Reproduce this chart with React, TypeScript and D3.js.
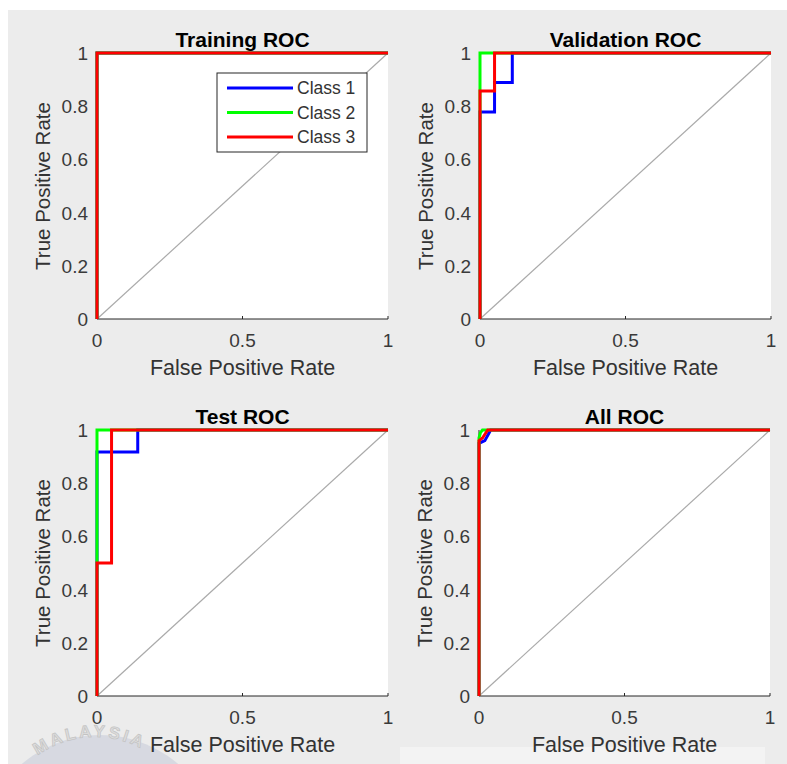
import React from 'react';
import * as d3 from 'd3';

const classes = ['Class 1', 'Class 2', 'Class 3'];
const classColors = ['#0000ff', '#00ff00', '#ff0000'];
const panelTitles = ['Training ROC', 'Validation ROC', 'Test ROC', 'All ROC'];
const xTicks = [0, 0.5, 1];
const yTicks = [0, 0.2, 0.4, 0.6, 0.8, 1];

// [fpr, tpr] points, one list per class
const trainingRoc = [
  [[0, 0], [0, 1], [1, 1]],
  [[0, 0], [0, 1], [1, 1]],
  [[0, 0], [0, 1], [1, 1]],
];
const validationRoc = [
  [[0, 0], [0, 0.778], [0.05, 0.778], [0.05, 0.889], [0.111, 0.889], [0.111, 1], [1, 1]],
  [[0, 0], [0, 1], [1, 1]],
  [[0, 0], [0, 0.857], [0.05, 0.857], [0.05, 1], [1, 1]],
];
const testRoc = [
  [[0, 0], [0, 0.917], [0.14, 0.917], [0.14, 1], [1, 1]],
  [[0, 0], [0, 1], [1, 1]],
  [[0, 0], [0, 0.5], [0.05, 0.5], [0.05, 1], [1, 1]],
];
const allRoc = [
  [[0, 0], [0, 0.95], [0.02, 0.96], [0.035, 0.99], [0.04, 1], [1, 1]],
  [[0, 0], [0, 0.97], [0.005, 0.99], [0.012, 1], [1, 1]],
  [[0, 0], [0, 0.96], [0.012, 0.97], [0.03, 1], [1, 1]],
];
const panelCurves = [trainingRoc, validationRoc, testRoc, allRoc];

// left/top corner of each axes box
const panelBoxes = [
  { x: 97, y: 53 },
  { x: 480, y: 53 },
  { x: 97, y: 430 },
  { x: 479, y: 430 },
];
const plotW = 291;
const plotH = 266;
const font = '"Liberation Sans", Arial, Helvetica, sans-serif';
const textColor = '#262626';

function RocPanel({ idx }: { idx: number }) {
  const { x: left, y: top } = panelBoxes[idx];
  const x = d3.scaleLinear().domain([0, 1]).range([left, left + plotW]);
  const y = d3.scaleLinear().domain([0, 1]).range([top + plotH, top]);
  const line = d3.line<number[]>().x(d => x(d[0])).y(d => y(d[1]));
  const cx = left + plotW / 2;
  const cy = top + plotH / 2;
  return (
    <g>
      <rect x={left} y={top} width={plotW} height={plotH} fill="#ffffff" />
      <line x1={x(0)} y1={y(0)} x2={x(1)} y2={y(1)} stroke="#aaaaaa" strokeWidth={1.2} />
      <line x1={x(0)} y1={y(0)} x2={x(1)} y2={y(0)} stroke={textColor} strokeWidth={1} />
      <line x1={x(0)} y1={y(0)} x2={x(0)} y2={y(1)} stroke={textColor} strokeWidth={1} />
      {xTicks.map(t => (
        <g key={t}>
          <line x1={x(t)} x2={x(t)} y1={y(0)} y2={y(0) - 3} stroke={textColor} />
          <text x={x(t)} y={y(0) + 28} textAnchor="middle" fontSize={19} fill="#3a3a3a" fontFamily={font}>
            {t}
          </text>
        </g>
      ))}
      {yTicks.map(t => (
        <text key={t} x={left - 9} y={y(t) + 2} textAnchor="end" dominantBaseline="middle" fontSize={19} fill="#3a3a3a" fontFamily={font}>
          {t}
        </text>
      ))}
      {panelCurves[idx].map((pts, i) => (
        <path key={i} d={line(pts) || ''} fill="none" stroke={classColors[i]} strokeWidth={3} strokeLinejoin="miter" />
      ))}
      <text x={cx} y={top - 6} textAnchor="middle" fontSize={21} fontWeight="bold" fill="#000" fontFamily={font}>
        {panelTitles[idx]}
      </text>
      <text x={cx} y={y(0) + 56} textAnchor="middle" fontSize={21.5} fill="#333" fontFamily={font}>
        False Positive Rate
      </text>
      <text transform={`translate(${left - 47},${cy}) rotate(-90)`} textAnchor="middle" fontSize={20.5} fill="#333" fontFamily={font}>
        True Positive Rate
      </text>
    </g>
  );
}

function Legend() {
  const lx = 217, ly = 73;
  const rowY = d3.scaleLinear().domain([0, 2]).range([ly + 15, ly + 64]);
  return (
    <g>
      <rect x={lx} y={ly} width={150} height={79} fill="#ffffff" stroke={textColor} strokeWidth={1} />
      {classes.map((c, i) => (
        <g key={c}>
          <line x1={lx + 10} x2={lx + 76} y1={rowY(i)} y2={rowY(i)} stroke={classColors[i]} strokeWidth={3} />
          <text x={lx + 80} y={rowY(i)} dominantBaseline="central" fontSize={17.5} fill="#333" fontFamily={font}>
            {c}
          </text>
        </g>
      ))}
    </g>
  );
}

function Watermark() {
  const cx = 95, cy = 835, r = 98;
  const pt = (deg: number) => {
    const a = (deg * Math.PI) / 180;
    return [cx + r * Math.cos(a), cy - r * Math.sin(a)];
  };
  const [sx, sy] = pt(220);
  const [ex, ey] = pt(-40);
  const arc = `M${sx},${sy} A${r},${r} 0 1 1 ${ex},${ey}`;
  const off = (deg: number) => ((220 - deg) * Math.PI / 180) * r;
  return (
    <g opacity={0.8}>
      <circle cx={100} cy={855} r={120} fill="#d2d5df" />
      <path id="wm-arc" d={arc} fill="none" stroke="none" />
      <text fontSize={17} fontWeight="bold" fontFamily={font} letterSpacing={3} fill="#d8d8d8" stroke="#b8b8b8" strokeWidth={0.7}>
        <textPath href="#wm-arc" startOffset={off(126)}>MALAYSIA</textPath>
      </text>
    </g>
  );
}

export default function App() {
  return (
    <svg width={787} height={764} style={{ position: 'absolute', left: 0, top: 0 }}>
      <rect width={787} height={764} fill="#ffffff" />
      <rect x={8} y={10} width={779} height={754} fill="#ececec" />
      <rect x={400} y={747} width={365} height={17} fill="#f3f3f3" />
      <Watermark />
      {panelTitles.map((_, i) => (
        <RocPanel key={i} idx={i} />
      ))}
      <Legend />
    </svg>
  );
}
